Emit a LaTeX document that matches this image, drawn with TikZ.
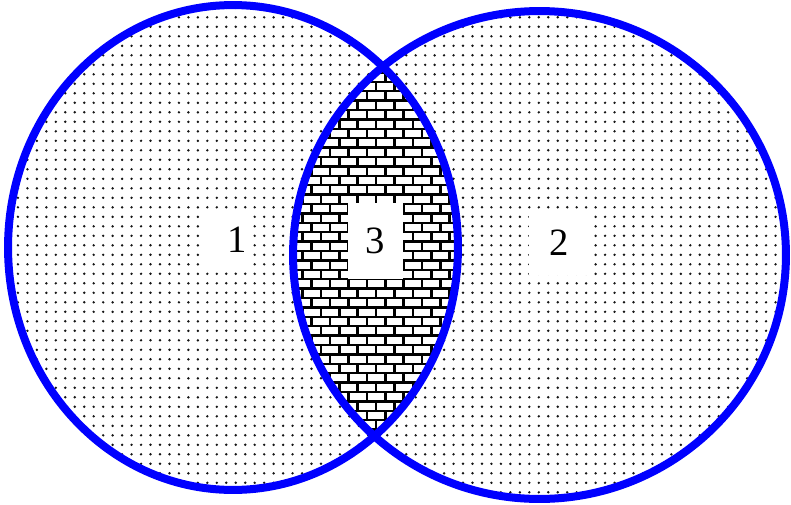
\documentclass[tikz,border=0pt]{standalone}
\usepackage{fontspec}
\setmainfont{Liberation Serif}
\usepackage{xcolor}
\usepackage{tikz}
\definecolor{vennBlue}{HTML}{0000FF}
\definecolor{vennDot}{HTML}{141414}
\tikzset{
  set outline/.style={draw=vennBlue, line width=0.16cm},
  dot fill/.style={fill=vennDot},
  mortar/.style={draw=black, line width=0.05cm},
  region label/.style={fill=white, inner sep=0pt, align=center,
    font=\fontsize{22}{25}\selectfont}
}

\begin{document}
\begin{tikzpicture}[x=0.02cm, y=-0.02cm]
  \useasboundingbox (0,0) rectangle (791,504);
  \coordinate (cA) at (233,247.5);
  \coordinate (cB) at (539.5,255);
  \begin{scope}
    \clip (cA) ellipse [x radius=4.5cm, y radius=4.85cm];
    \foreach \r in {0,...,52}
      \fill[dot fill] foreach \c in {1,...,49} {({-1+9.47*\c},{7.8+9.5*\r}) circle [radius=0.027cm]};
  \end{scope}
  \begin{scope}
    \clip (cB) ellipse [x radius=4.93cm, y radius=4.88cm];
    \foreach \r in {0,...,52}
      \fill[dot fill] foreach \c in {31,...,83} {({-1+9.47*\c},{7.8+9.5*\r}) circle [radius=0.027cm]};
  \end{scope}
  \begin{scope}
    \clip (cA) ellipse [x radius=4.5cm, y radius=4.85cm];
    \clip (cB) ellipse [x radius=4.93cm, y radius=4.88cm];
    \fill[white] (270,50) rectangle (480,450);
    \foreach \r in {0,...,41}{
      \pgfmathsetmacro{\yt}{63+9.4*\r}
      \pgfmathsetmacro{\xs}{265.7+9.2*mod(\r,2)}
      \draw[mortar] (270,\yt) -- (480,\yt);
      \draw[mortar] foreach \k in {0,...,11} {({\xs+18.4*\k},\yt) -- ++(0,9.4)};
    }
  \end{scope}
  \node[region label, text width=0.84cm, align=right, minimum height=1.12cm] (lab1) at (226,240) {1};
  \node[region label, minimum width=1.1cm, minimum height=1.52cm] (lab3) at (375.5,241) {3};
  \node[region label, minimum width=1.2cm, minimum height=1.28cm] (lab2) at (559,243) {2};
  \draw[set outline] (cA) ellipse [x radius=4.5cm, y radius=4.85cm];
  \draw[set outline] (cB) ellipse [x radius=4.93cm, y radius=4.88cm];
\end{tikzpicture}
\end{document}
